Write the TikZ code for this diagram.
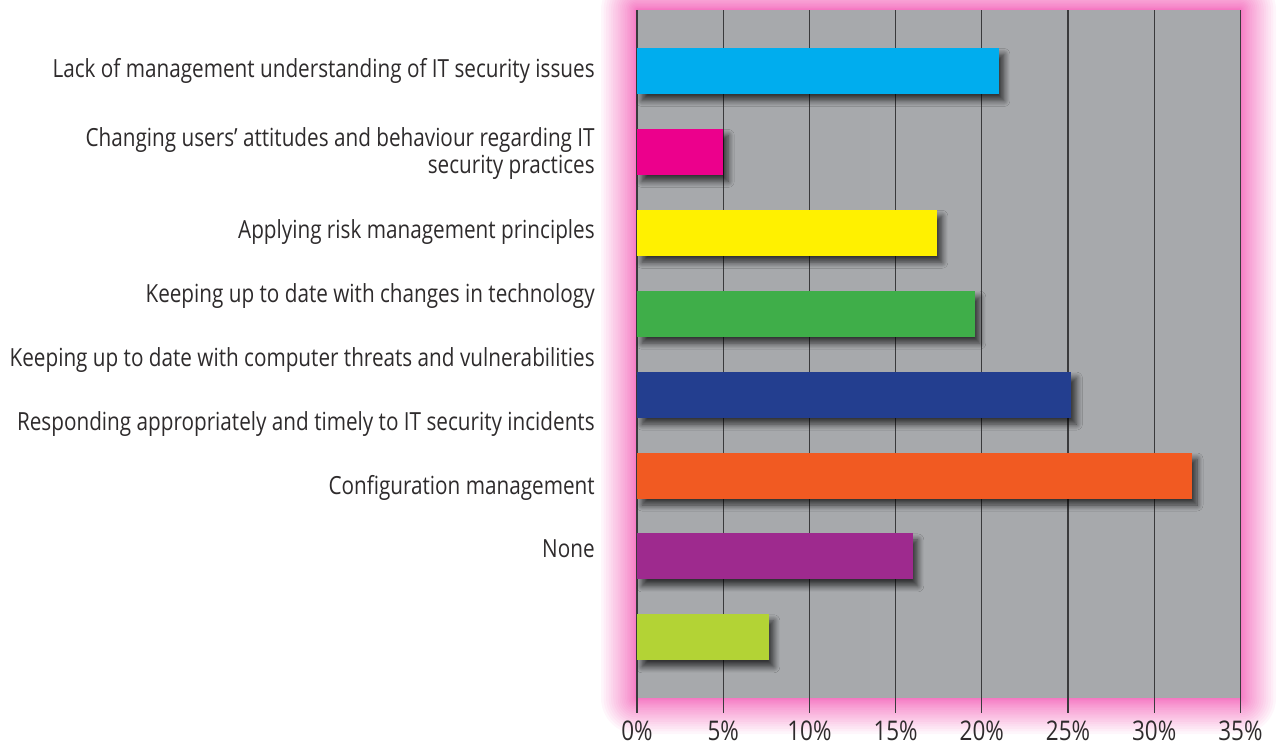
\documentclass[tikz,border=0pt]{standalone}
\usepackage{fontspec}
\setmainfont{Open Sans}[FakeStretch=0.83]
\usetikzlibrary{shadows.blur}
\definecolor{plotgray}{HTML}{A7A9AC}
\definecolor{glowpink}{HTML}{EC008C}
\definecolor{gridcol}{HTML}{3A3A3C}
\definecolor{txt}{HTML}{2E2B2C}
\definecolor{barA}{HTML}{00ADEE}
\definecolor{barB}{HTML}{EC008C}
\definecolor{barC}{HTML}{FFF100}
\definecolor{barD}{HTML}{3FAE49}
\definecolor{barE}{HTML}{233E8F}
\definecolor{barF}{HTML}{F15A22}
\definecolor{barG}{HTML}{9E2A8E}
\definecolor{barH}{HTML}{B3D335}

\begin{document}
\begin{tikzpicture}[x=0.02cm, y=-0.02cm,
    bar/.style={fill=#1, inner sep=0pt, outer sep=0pt, minimum height=0.92cm, anchor=north west,
      blur shadow={shadow xshift=0.1cm, shadow yshift=-0.13cm, shadow blur radius=0.12cm, shadow blur steps=8, shadow opacity=70}},
    lbl/.style={anchor=base east, inner sep=0pt, text=txt, font=\fontsize{14.2}{15.4}\selectfont},
    ticklbl/.style={anchor=base, inner sep=0pt, text=txt, font=\fontsize{15.4}{16}\selectfont},
    gridln/.style={gridcol, line width=0.6pt},
    glow/.style={fill=glowpink, opacity=0.035}
  ]
  \useasboundingbox (0,0) rectangle (1277,744);

  % Pink glow round the plot area
  \foreach \g [evaluate=\g as \d using {36*(\g/22)^1.6}] in {1,...,22} {
    \pgfmathsetmacro\r{0.02*\d}
    \fill[glow, rounded corners=\r cm] (637-\d, 10-\d) rectangle (1240+\d, 698+\d);
  }
  \fill[plotgray] (637,10) rectangle (1240,698);

  % Grid lines and axis labels
  \foreach \k in {0,...,7} {
    \draw[gridln] (637+86.2*\k, 10) -- (637+86.2*\k, 713);
    \pgfmathtruncatemacro\p{5*\k}
    \node[ticklbl] (tick\k) at (637+86.2*\k, 740) {\p\%};
  }

  % Bars
  \foreach \v/\c [count=\i] in {21/barA, 5/barB, 17.4/barC, 19.6/barD, 25.2/barE, 32.2/barF, 16/barG, 7.65/barH}
    \node[bar=\c, minimum width=\v*0.3448cm] (bar\i) at ({637}, {48+80.9*(\i-1)}) {};

  % Category labels
  \node[lbl] (lbl1) at (595,77) {Lack of management understanding of IT security issues};
  \node[lbl, anchor=east, align=right] (lbl2) at (595,153.5) {Changing users’ attitudes and behaviour regarding IT\\security practices};
  \node[lbl] (lbl3) at (595,238) {Applying risk management principles};
  \node[lbl] (lbl4) at (595,302) {Keeping up to date with changes in technology};
  \node[lbl] (lbl5) at (595,366) {Keeping up to date with computer threats and vulnerabilities};
  \node[lbl] (lbl6) at (595,430) {Responding appropriately and timely to IT security incidents};
  \node[lbl] (lbl7) at (595,494) {Configuration management};
  \node[lbl] (lbl8) at (595,557) {None};
\end{tikzpicture}
\end{document}
